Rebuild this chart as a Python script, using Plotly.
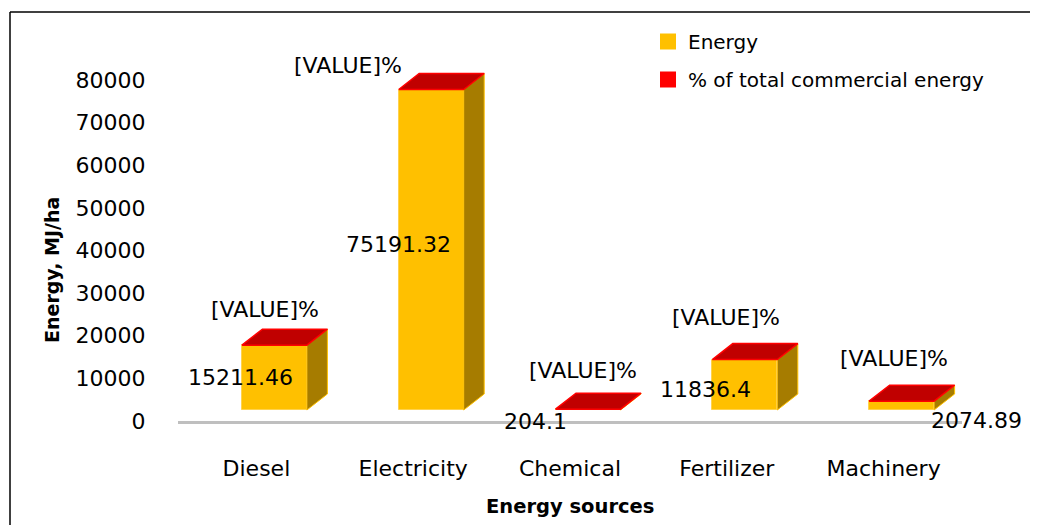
import plotly.graph_objects as go

# ---------------- data ----------------
categories = ["Diesel", "Electricity", "Chemical", "Fertilizer", "Machinery"]
energy = [15211.46, 75191.32, 204.1, 11836.4, 2074.89]
energy_labels = ["15211.46", "75191.32", "204.1", "11836.4", "2074.89"]
pct_labels = ["[VALUE]%", "[VALUE]%", "[VALUE]%", "[VALUE]%", "[VALUE]%"]
y_ticks = [0, 10000, 20000, 30000, 40000, 50000, 60000, 70000, 80000]

# ---------------- layout / style ----------------
OFF = 8                      # browser body margin
W, H = 1038 - OFF, 525 - OFF
PLOT_L, PLOT_R, PLOT_T, PLOT_B = 178, 962, 54, 421   # reference pixels
ML = PLOT_L - OFF
MR = W - (PLOT_R - OFF)
MT = PLOT_T - OFF
MB = H - (PLOT_B - OFF)
Y_MAX = 86100
PX_X = (PLOT_R - PLOT_L) / 5.0
PX_Y = (PLOT_B - PLOT_T) / Y_MAX

FLOOR = 11 / PX_Y          # bars float above the floor edge (3-D look)
DEPTH_X = 20.5 / PX_X      # 3-D depth, horizontal
DEPTH_Y = 16 / PX_Y        # 3-D depth, vertical
BAR_W = 65 / PX_X
BAR_OFF = -14.5 / PX_X

FRONT = "#FFC000"
SIDE = "#A67C00"
TOP = "#C00000"
TOP_EDGE = "#FF0000"
FONT = "DejaVu Sans"

# label offsets in pixels (Excel places 3-D labels irregularly)
val_shift = [(-16, 0), (-15, 5), (-35, -12), (-21, -5), (93, -15)]
pct_shift = [(9, 20), (-65, 8), (13, 23), (-1, 26), (10, 27)]

def px_to_paper_x(px):
    return (px - PLOT_L) / (PLOT_R - PLOT_L)

def px_to_paper_y(py):
    return (PLOT_B - py) / (PLOT_B - PLOT_T)

xs = list(range(len(categories)))

# side and top polygons computed from the data
side_x, side_y, top_x, top_y = [], [], [], []
for i, v in zip(xs, energy):
    x0 = i + BAR_OFF
    x1 = x0 + BAR_W
    b = FLOOR
    t = FLOOR + v
    side_x += [x1, x1, x1 + DEPTH_X, x1 + DEPTH_X, x1, None]
    side_y += [b, t, t + DEPTH_Y, b + DEPTH_Y, b, None]
    top_x += [x0, x1, x1 + DEPTH_X, x0 + DEPTH_X, x0, None]
    top_y += [t, t, t + DEPTH_Y, t + DEPTH_Y, t, None]

fig = go.Figure()

fig.add_trace(go.Bar(
    x=xs, y=energy, base=[FLOOR] * len(xs), width=BAR_W, offset=BAR_OFF,
    marker=dict(color=FRONT, line=dict(color="#FFD24D", width=1)),
    showlegend=False, hoverinfo="skip",
))
fig.add_trace(go.Scatter(
    x=side_x, y=side_y, mode="lines", fill="toself", fillcolor=SIDE,
    line=dict(color=FRONT, width=1), showlegend=False, hoverinfo="skip",
))
fig.add_trace(go.Scatter(
    x=top_x, y=top_y, mode="lines", fill="toself", fillcolor=TOP,
    line=dict(color=TOP_EDGE, width=1.5), showlegend=False, hoverinfo="skip",
))

# legend entries
fig.add_trace(go.Scatter(
    x=[None], y=[None], mode="markers", name="Energy", legendgroup="a",
    marker=dict(symbol="square", size=16, color=FRONT),
))
fig.add_trace(go.Scatter(
    x=[None], y=[None], mode="markers", name="% of total commercial energy",
    legendgroup="b", marker=dict(symbol="square", size=16, color="#FF0000"),
))

annotations = []
for i, v in enumerate(energy):
    dx, dy = val_shift[i]
    annotations.append(dict(
        x=i, y=FLOOR + v / 2, xref="x", yref="y", text=energy_labels[i],
        showarrow=False, xshift=dx, yshift=dy, xanchor="center", yanchor="middle",
        font=dict(family=FONT, size=22, color="black"),
    ))
    dx, dy = pct_shift[i]
    annotations.append(dict(
        x=i, y=FLOOR + v + DEPTH_Y, xref="x", yref="y", text=pct_labels[i],
        showarrow=False, xshift=dx, yshift=dy, xanchor="center", yanchor="middle",
        font=dict(family=FONT, size=22, color="black"),
    ))

annotations.append(dict(
    x=px_to_paper_x(570), y=px_to_paper_y(507), xref="paper", yref="paper",
    text="<b>Energy sources</b>", showarrow=False, xanchor="center", yanchor="middle",
    font=dict(family=FONT, size=19.5, color="black"),
))
annotations.append(dict(
    x=px_to_paper_x(52), y=px_to_paper_y(270), xref="paper", yref="paper",
    text="<b>Energy, MJ/ha</b>", showarrow=False, textangle=-90,
    xanchor="center", yanchor="middle",
    font=dict(family=FONT, size=19, color="black"),
))

shapes = [
    dict(type="line", xref="paper", yref="paper",
         x0=px_to_paper_x(10), x1=px_to_paper_x(1033),
         y0=px_to_paper_y(12), y1=px_to_paper_y(12),
         line=dict(color="black", width=1.5)),
    dict(type="line", xref="paper", yref="paper",
         x0=px_to_paper_x(10), x1=px_to_paper_x(10),
         y0=px_to_paper_y(12), y1=px_to_paper_y(530),
         line=dict(color="black", width=1.5)),
]

fig.update_layout(
    width=W, height=H,
    margin=dict(l=ML, r=MR, t=MT, b=MB, autoexpand=False),
    paper_bgcolor="white", plot_bgcolor="white",
    font=dict(family=FONT, size=22, color="black"),
    showlegend=True,
    legend=dict(
        x=px_to_paper_x(648), y=px_to_paper_y(22), xanchor="left", yanchor="top",
        font=dict(family=FONT, size=20, color="black"),
        tracegroupgap=9, bgcolor="rgba(0,0,0,0)",
    ),
    xaxis=dict(
        range=[-0.5, 4.5], tickvals=xs, ticktext=categories,
        showgrid=False, zeroline=False, showline=True,
        linecolor="#BFBFBF", linewidth=3,
        ticks="outside", ticklen=26, tickcolor="rgba(0,0,0,0)",
        tickfont=dict(family=FONT, size=22, color="black"),
        fixedrange=True,
    ),
    yaxis=dict(
        range=[0, Y_MAX], tickvals=y_ticks, ticktext=[str(t) for t in y_ticks],
        showgrid=False, zeroline=False, showline=False,
        ticks="outside", ticklen=27, tickcolor="rgba(0,0,0,0)",
        tickfont=dict(family=FONT, size=22, color="black"),
        fixedrange=True,
    ),
    annotations=annotations,
    shapes=shapes,
    bargap=0,
)

fig.write_html("out.html")
